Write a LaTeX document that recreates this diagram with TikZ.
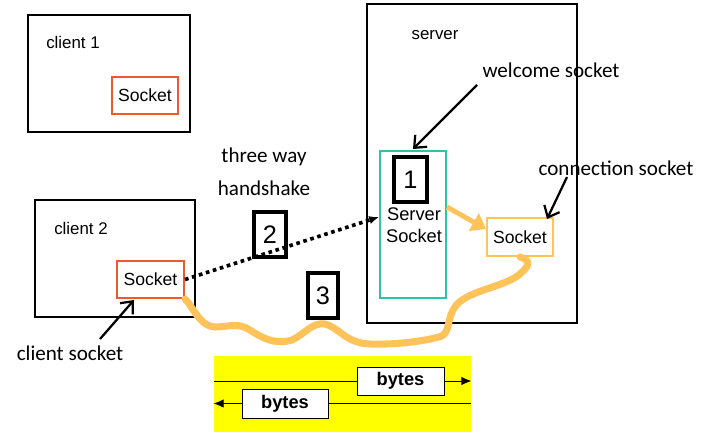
\documentclass[tikz,border=0pt]{standalone}
\usepackage{fontspec}
\setmainfont{Liberation Sans}
\newfontfamily\handfont{Carlito}
\usetikzlibrary{arrows.meta,positioning}
\definecolor{sockred}{HTML}{EE5A2C}
\definecolor{sockteal}{HTML}{2EC4A6}
\definecolor{sockorange}{HTML}{FFC35A}
\definecolor{pipeyellow}{HTML}{FFFF00}
\begin{document}
\begin{tikzpicture}[x=0.025cm,y=-0.025cm,>={Latex[length=7pt,width=6pt]}]
  \tikzset{hostbox/.style={draw=black,line width=1.4pt,inner sep=0pt},
           sockbox/.style={draw=sockred,line width=1.4pt,font=\fontsize{12.5}{14}\selectfont,
                           minimum width=1.65cm,minimum height=0.925cm,inner sep=0pt},
           numbox/.style={draw=black,line width=2.2pt,fill=white,inner sep=0pt,
                          font=\fontsize{18}{20}\selectfont,minimum height=1.125cm},
           hosttext/.style={font=\fontsize{12}{14}\selectfont,inner sep=0pt},
           notetext/.style={font=\handfont\fontsize{15}{18}\selectfont,inner sep=0pt},
           pointer/.style={line width=1.6pt,-{Straight Barb[length=7pt,width=12pt,line width=1.6pt]}},
           bytebox/.style={draw=black,fill=white,line width=0.6pt,inner sep=0pt,
                           font=\fontsize{13}{15}\selectfont\bfseries}}
  \useasboundingbox (0,0) rectangle (708,440);

  % hosts
  \node[hostbox,minimum width=4.05cm,minimum height=2.925cm] (client1) at (109,73.5) {};
  \node[hostbox,minimum width=4cm,minimum height=2.925cm]    (client2) at (115,258.5) {};
  \node[hostbox,minimum width=5.25cm,minimum height=7.975cm] (server)  at (472,163.5) {};
  \node[hosttext] (c1text) at (73,42)  {client 1};
  \node[hosttext] (c2text) at (81,228) {client 2};
  \node[hosttext] (svtext) at (435,35) {server};

  % sockets
  \node[sockbox] (sock1) at (145,95.5)  {Socket};
  \node[sockbox,minimum width=1.675cm] (sock2) at (150.5,279.5) {Socket};
  \node[sockbox,draw=sockteal,minimum height=3.675cm] (ssock) at (413,224.5) {};
  \node[hosttext,font=\fontsize{13}{15}\selectfont,align=center] (sstext) at (414,225) {Server\\[1pt]Socket};
  \node[sockbox,draw=sockorange,minimum height=0.95cm] (csock) at (520,237) {Socket};

  % step numbers
  \node[numbox,minimum width=0.825cm] (one)   at (410.5,179.5) {1};
  \node[numbox,minimum width=0.8cm]   (two)   at (270,234.5)   {2};
  \node[numbox,minimum width=0.75cm]  (three) at (323,295.5)   {3};

  % notes
  \node[notetext] (cstext)  at (70,353)  {client socket};
  \node[notetext] (hstext1) at (264,157) {three way};
  \node[notetext] (hstext2) at (264,188) {handshake};
  \node[notetext] (wstext)  at (551,70)  {welcome socket};
  \node[notetext] (cntext)  at (616,168) {connection socket};
  \coordinate (cstail) at (100,339);
  \coordinate (wstail) at (477,85);
  \coordinate (cntail) at (567,177);

  \draw[pointer] (cstail) -- (134,300);
  \draw[pointer] (wstail) -- (413,149);
  \draw[pointer] (cntail) -- (547,219);

  % handshake and connection
  \draw[->,line width=2.6pt,dash pattern=on 2.6pt off 2.6pt] (sock2.east) -- (ssock.west |- 0,217);
  \draw[-{Triangle[length=10pt,width=14pt]},sockorange,line width=3.5pt]
       (ssock.east |- 0,207) -- (csock.west |- 0,229);
  \draw[sockorange,line width=5pt,line cap=round]
       (sock2.south east) .. controls (192,305) and (200,327) .. (215,327)
       .. controls (228,327) and (238,322) .. (250,330)
       .. controls (262,338) and (275,345) .. (292,340)
       .. controls (305,334) and (312,322) .. (325,324)
       .. controls (340,328) and (345,343) .. (370,344)
       .. controls (400,345) and (430,340) .. (442,336)
       .. controls (452,330) and (445,312) .. (462,300)
       .. controls (480,288) and (510,285) .. (522,272)
       .. controls (530,265) and (530,260) .. (csock.south);

  % byte stream
  \node[fill=pipeyellow,minimum width=6.425cm,minimum height=1.9cm,inner sep=0pt] (pipe) at (342.5,394) {};
  \node[bytebox,minimum width=2.175cm,minimum height=0.7cm] (bytes1) at (400.5,381) {bytes};
  \node[bytebox,minimum width=2.15cm,minimum height=0.725cm] (bytes2) at (285,403.5) {bytes};
  \draw[line width=0.6pt] (pipe.west |- bytes1) -- (bytes1.west);
  \draw[->,line width=0.6pt] (bytes1.east) -- (pipe.east |- bytes1);
  \draw[line width=0.6pt] (pipe.east |- bytes2) -- (bytes2.east);
  \draw[->,line width=0.6pt] (bytes2.west) -- (pipe.west |- bytes2);
\end{tikzpicture}
\end{document}
